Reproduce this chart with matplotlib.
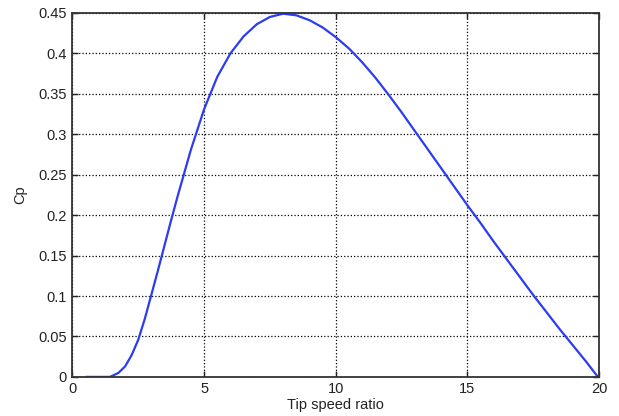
import matplotlib
matplotlib.use("Agg")
import matplotlib.pyplot as plt

tsr = [0.54, 1.0, 1.43, 1.75, 2.0, 2.25, 2.5, 2.75, 3.0, 3.25, 3.5, 3.75, 4.0, 4.5, 5.0, 5.5,
       6.0, 6.5, 7.0, 7.5, 8.0, 8.5, 9.0, 9.5, 10.0, 10.5, 11.0, 11.5, 12.0, 12.5,
       13.0, 13.5, 14.0, 14.5, 15.0, 15.5, 16.0, 16.5, 17.0, 17.5, 18.0, 18.5, 19.0,
       19.5, 19.95]
cp = [0.0, 0.0, 0.0, 0.005, 0.013, 0.027, 0.046, 0.072, 0.102, 0.132, 0.163, 0.194,
      0.224, 0.281, 0.331, 0.371, 0.400, 0.421, 0.436, 0.445, 0.449, 0.447, 0.441,
      0.432, 0.420, 0.406, 0.389, 0.370, 0.349, 0.327, 0.304, 0.281, 0.258, 0.235,
      0.212, 0.190, 0.167, 0.145, 0.123, 0.101, 0.080, 0.059, 0.039, 0.019, 0.0]

xticks = [0, 5, 10, 15, 20]
yticks = [0, 0.05, 0.1, 0.15, 0.2, 0.25, 0.3, 0.35, 0.4, 0.45]
ytick_labels = ["0", "0.05", "0.1", "0.15", "0.2", "0.25", "0.3", "0.35", "0.4", "0.45"]

plt.rcParams['font.family'] = ['Liberation Sans', 'DejaVu Sans']

fig = plt.figure(figsize=(6.19, 4.16), dpi=100)
ax = fig.add_axes([0.117, 0.094, 0.851, 0.875])
ax.plot(tsr, cp, color='#2b3cf2', lw=1.6, solid_joinstyle='round')
ax.set_xlim(0, 20)
ax.set_ylim(0, 0.45)
ax.set_xticks(xticks)
ax.set_xticklabels([str(t) for t in xticks])
ax.set_yticks(yticks)
ax.set_yticklabels(ytick_labels)
ax.grid(True, linestyle=':', color='black', lw=0.9)
ax.tick_params(direction='in', length=4, width=1.0, labelsize=10.5, top=True, right=True,
               colors='#222222', pad=4)
for s in ax.spines.values():
    s.set_linewidth(1.3)
    s.set_color('#333333')
ax.set_xlabel('Tip speed ratio', fontsize=10.5, labelpad=1, color='#222222')
ax.set_ylabel('Cp', fontsize=10.5, labelpad=8, color='#222222')
fig.savefig('out.png', dpi=100)
